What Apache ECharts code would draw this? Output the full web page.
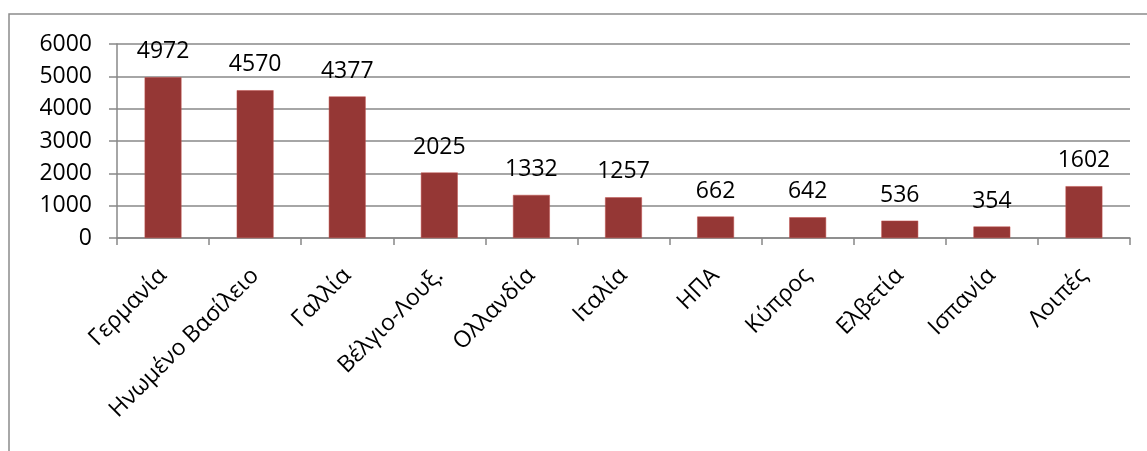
<!DOCTYPE html>
<html lang="el">
<head>
    <meta charset="UTF-8">
    <title>Bar chart</title>
    <script src="https://cdn.jsdelivr.net/npm/echarts@6/dist/echarts.min.js"></script>
    <style>
        html, body { margin: 0; padding: 0; background: #fff; }
        #container { width: 1147px; height: 451px; }
    </style>
</head>
<body>
<div id="container"></div>
<script>
    var countries = ['Γερμανία', 'Ηνωμένο Βασίλειο', 'Γαλλία', 'Βέλγιο-Λουξ.', 'Ολλανδία',
        'Ιταλία', 'ΗΠΑ', 'Κύπρος', 'Ελβετία', 'Ισπανία', 'Λοιπές'];
    var values = [4972, 4570, 4377, 2025, 1332, 1257, 662, 642, 536, 354, 1602];

    var font = 'Open Sans';
    var fs = 23;
    var myChart = echarts.init(document.getElementById('container'));

    myChart.setOption({
        animation: false,
        grid: { left: 117, right: 17, top: 44, bottom: 213 },
        graphic: [{
            type: 'rect',
            shape: { x: 9, y: 14, width: 1160, height: 460 },
            style: { fill: 'none', stroke: '#8c8c8c', lineWidth: 1.5 },
            silent: true
        }],
        xAxis: {
            type: 'category',
            data: countries,
            axisLine: { lineStyle: { color: '#888', width: 1.5 } },
            axisTick: { show: true, length: 7, lineStyle: { color: '#888', width: 1.5 } },
            axisLabel: {
                rotate: 45,
                margin: 34,
                interval: 0,
                fontFamily: font,
                fontSize: fs,
                color: '#000'
            }
        },
        yAxis: {
            type: 'value',
            min: 0,
            max: 6000,
            interval: 1000,
            axisLine: { show: true, lineStyle: { color: '#888', width: 1.5 } },
            axisTick: { show: true, length: 8, lineStyle: { color: '#888', width: 1.5 } },
            splitLine: { lineStyle: { color: '#888', width: 1.5 } },
            axisLabel: {
                margin: 25,
                fontFamily: font,
                fontSize: fs,
                color: '#000',
                formatter: function (v) { return String(v); }
            }
        },
        series: [{
            type: 'bar',
            data: values,
            barWidth: '40%',
            itemStyle: { color: '#953735', borderColor: '#c0504d', borderWidth: 0.5 },
            label: {
                show: true,
                position: 'top',
                distance: 14,
                fontFamily: font,
                fontSize: fs,
                color: '#000'
            }
        }]
    });
</script>
</body>
</html>
